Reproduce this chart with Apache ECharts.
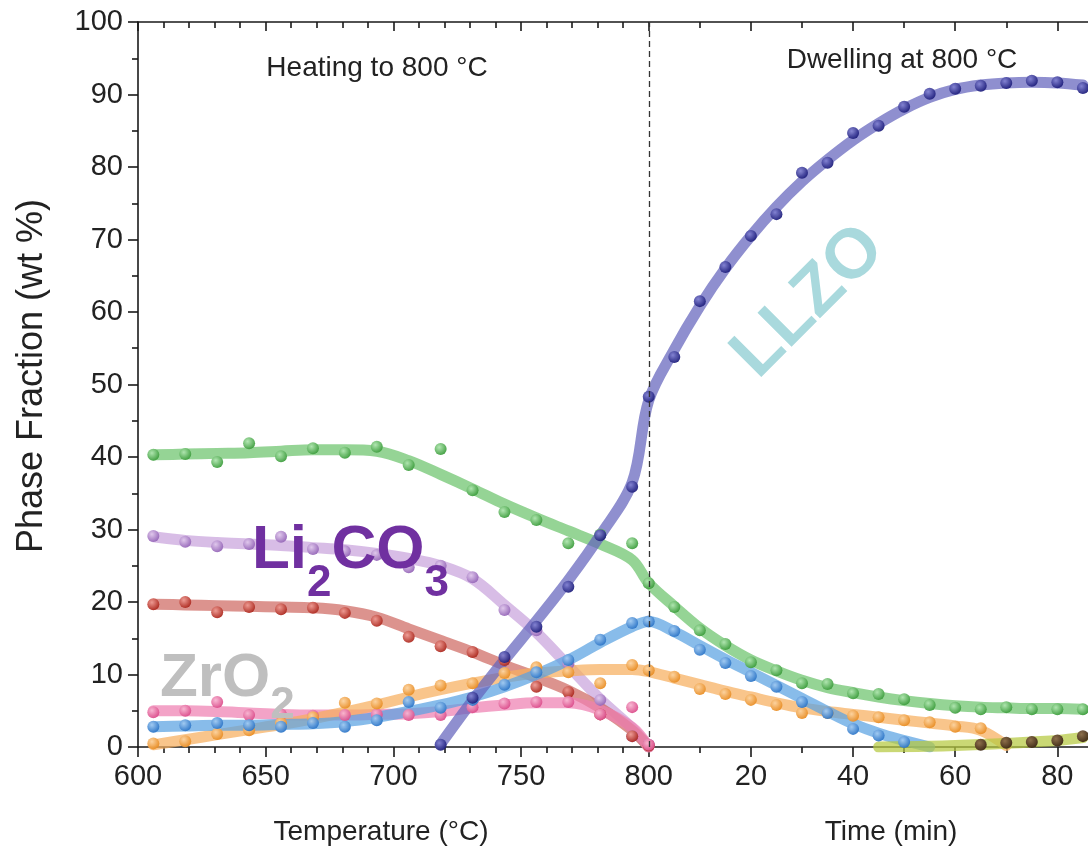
<!DOCTYPE html>
<html>
<head>
<meta charset="utf-8">
<script src="https://cdn.jsdelivr.net/npm/echarts@6/dist/echarts.min.js"></script>
<style>
html,body{margin:0;padding:0;background:#fff;}
#chart{width:1088px;height:859px;}
</style>
</head>
<body>
<div id="chart"></div>
<script>
// ---------- DATA ----------
// Heating stage: temperature (°C) of each measurement
const heatTemps = [606, 618.5, 631, 643.5, 656, 668.5, 681, 693.5, 706, 718.5, 731, 743.5, 756, 768.5, 781, 793.5];
// Dwelling stage: time at 800 °C (min)
const dwellMinutes = [0, 5, 10, 15, 20, 25, 30, 35, 40, 45, 50, 55, 60, 65, 70, 75, 80, 85];
// Tick labels
const tempTicks = [600, 650, 700, 750, 800];
const timeTicks = [20, 40, 60, 80];
const tempMinor = [610, 620, 630, 640, 660, 670, 680, 690, 710, 720, 730, 740, 760, 770, 780, 790];
const timeMinor = [10, 30, 50, 70];
const yTicks = [0, 10, 20, 30, 40, 50, 60, 70, 80, 90, 100];

// Phase fractions (wt %): measured points, heating part then dwelling part
const greenPtsHeat = [40.3, 40.4, 39.3, 41.9, 40.1, 41.2, 40.6, 41.4, 38.9, 41.1, 35.4, 32.4, 31.3, 28.1, 29.3, 28.1];
const greenPtsDwell = [22.6, 19.3, 16.1, 14.2, 11.7, 10.6, 8.8, 8.7, 7.4, 7.3, 6.6, 5.8, 5.4, 5.2, 5.5, 5.2, 5.2, 5.2];
const greenFitHeat = [40.3, 40.4, 40.5, 40.6, 40.8, 41.0, 41.0, 40.8, 39.5, 37.6, 35.6, 33.5, 31.6, 29.8, 28.0, 25.8];
const greenFitDwell = [22.6, 19.4, 16.4, 14.0, 12.0, 10.5, 9.2, 8.2, 7.5, 6.9, 6.4, 6.0, 5.7, 5.5, 5.4, 5.3, 5.3, 5.2];

const li2co3PtsHeat = [29.1, 28.3, 27.7, 28.0, 29.0, 27.3, 27.0, 26.5, 24.8, 25.0, 23.4, 18.9, 16.1, 11.5, 6.5, 1.5];
const li2co3PtsDwell = [0.3];
const li2co3FitHeat = [29.0, 28.5, 28.2, 28.0, 27.8, 27.5, 27.2, 26.7, 26.0, 25.0, 23.2, 19.6, 15.8, 11.2, 6.6, 2.6];
const li2co3FitDwell = [0];

const redPtsHeat = [19.7, 20.0, 18.6, 19.3, 19.0, 19.2, 18.5, 17.4, 15.2, 13.9, 13.1, 12.0, 8.3, 7.6, 4.5, 1.5];
const redPtsDwell = [0.2];
const redFitHeat = [19.7, 19.6, 19.5, 19.4, 19.3, 19.2, 18.8, 17.9, 16.3, 14.7, 13.1, 11.3, 9.6, 7.8, 5.4, 2.3];
const redFitDwell = [0];

const pinkPtsHeat = [4.8, 5.0, 6.2, 4.4, 4.5, 4.3, 4.4, 4.5, 4.4, 4.4, 5.5, 6.0, 6.2, 6.2, 4.5, 5.5];
const pinkPtsDwell = [0.3];
const pinkFitHeat = [5.0, 5.0, 4.9, 4.7, 4.5, 4.4, 4.4, 4.5, 4.6, 4.9, 5.4, 5.8, 6.1, 6.1, 5.1, 2.7];
const pinkFitDwell = [0];

const bluePtsHeat = [2.8, 3.0, 3.3, 3.0, 2.8, 3.3, 2.8, 3.7, 6.2, 5.4, 6.5, 8.6, 10.3, 12.0, 14.8, 17.1];
const bluePtsDwell = [17.3, 16.0, 13.4, 11.6, 9.8, 8.3, 6.2, 4.7, 2.5, 1.6, 0.7];
const blueFitHeat = [2.8, 2.9, 3.0, 3.0, 3.1, 3.2, 3.5, 4.1, 4.9, 5.8, 6.9, 8.3, 10.0, 12.0, 14.4, 16.6];
const blueFitDwell = [17.3, 15.9, 14.0, 12.1, 10.3, 8.5, 6.7, 4.9, 3.2, 1.9, 0.9, 0.0];

const orangePtsHeat = [0.5, 0.8, 1.8, 2.3, 3.3, 4.1, 6.1, 6.0, 7.9, 8.5, 8.8, 10.2, 11.0, 10.3, 8.8, 11.3];
const orangePtsDwell = [10.6, 9.7, 8.0, 7.3, 6.5, 5.8, 4.7, 4.7, 4.3, 4.1, 3.7, 3.4, 2.8, 2.6];
const orangeFitHeat = [0.3, 1.0, 1.7, 2.4, 3.1, 3.9, 4.8, 5.8, 6.9, 7.9, 8.8, 9.6, 10.2, 10.5, 10.7, 10.7];
const orangeFitDwell = [10.4, 9.5, 8.6, 7.7, 6.9, 6.1, 5.4, 4.9, 4.5, 4.1, 3.7, 3.3, 2.9, 2.3, 0.2];

const llzoPtsHeat = [null, null, null, null, null, null, null, null, null, 0.3, 6.8, 12.4, 16.6, 22.1, 29.2, 35.9];
const llzoPtsDwell = [48.3, 53.8, 61.5, 66.2, 70.5, 73.5, 79.2, 80.6, 84.7, 85.7, 88.3, 90.1, 90.8, 91.2, 91.6, 91.9, 91.7, 90.9];
const llzoFitHeat = [null, null, null, null, null, null, null, null, null, 0.4, 6.4, 12.0, 17.4, 23.0, 29.2, 36.5];
const llzoFitDwell = [47.8, 54.8, 60.8, 66.0, 70.5, 74.5, 78.0, 81.0, 83.7, 86.0, 88.0, 89.6, 90.7, 91.3, 91.6, 91.7, 91.6, 91.3];

const olivePtsDwell = [null, null, null, null, null, null, null, null, null, null, null, null, null, 0.3, 0.6, 0.7, 0.9, 1.5];
const oliveFitDwell = [null, null, null, null, null, null, null, null, null, 0.0, 0.05, 0.1, 0.2, 0.35, 0.5, 0.7, 0.9, 1.3];

// ---------- AXIS MAPPING (broken axis: 1 min of dwelling = 2 axis units after 800 °C) ----------
const SPLIT = 800, MIN_SCALE = 2;
const timeToAxis = t => SPLIT + MIN_SCALE * t;
const xs = heatTemps.concat(dwellMinutes.map(timeToAxis));

function pairs(heat, dwell) {
  const h = heat || [];
  const d = dwell || [];
  const out = [];
  for (let i = 0; i < heatTemps.length; i++) out.push([xs[i], h[i] == null ? null : h[i]]);
  for (let j = 0; j < dwellMinutes.length; j++) {
    const v = d[j];
    out.push([xs[heatTemps.length + j], v == null ? null : v]);
  }
  return out.filter(p => p[1] != null);
}

const FONT = '"Liberation Sans", Arial, Helvetica, sans-serif';

const phases = [
  {name: 'Green', line: '#6cc46c', dot: ['#b0e6b0', '#389a38'], pts: pairs(greenPtsHeat, greenPtsDwell), fit: pairs(greenFitHeat, greenFitDwell)},
  {name: 'Li2CO3', line: '#c9a4dc', dot: ['#e0c8ec', '#9262b6'], pts: pairs(li2co3PtsHeat, li2co3PtsDwell), fit: pairs(li2co3FitHeat, li2co3FitDwell)},
  {name: 'Red', line: '#cf6a62', dot: ['#ee9a92', '#aa241a'], pts: pairs(redPtsHeat, redPtsDwell), fit: pairs(redFitHeat, redFitDwell)},
  {name: 'Pink', line: '#ee7fb2', dot: ['#f8b6d2', '#da4888'], pts: pairs(pinkPtsHeat, pinkPtsDwell), fit: pairs(pinkFitHeat, pinkFitDwell)},
  {name: 'Orange', line: '#f6ae5e', dot: ['#fcd3a0', '#e88a1e'], pts: pairs(orangePtsHeat, orangePtsDwell), fit: pairs(orangeFitHeat, orangeFitDwell)},
  {name: 'Blue', line: '#5aa2e2', dot: ['#a2cbf2', '#2872c6'], pts: pairs(bluePtsHeat, bluePtsDwell), fit: pairs(blueFitHeat, blueFitDwell)},
  {name: 'Olive', line: '#b6c940', dot: ['#8a6a4a', '#3a2412'], pts: pairs(null, olivePtsDwell), fit: pairs(null, oliveFitDwell)},
  {name: 'LLZO', line: '#6464bc', dot: ['#8282d2', '#1a1a78'], pts: pairs(llzoPtsHeat, llzoPtsDwell), fit: pairs(llzoFitHeat, llzoFitDwell)}
];

const series = [];
phases.forEach((p, i) => {
  series.push({
    type: 'line', name: p.name + ' fit', data: p.fit, smooth: 0.35, showSymbol: false,
    xAxisIndex: 0, yAxisIndex: 0, z: 2 + i * 0.01, silent: true,
    lineStyle: {color: p.line, width: 11, opacity: 0.72, cap: 'round', join: 'round'}
  });
});
phases.forEach((p, i) => {
  series.push({
    type: 'scatter', name: p.name, data: p.pts, symbol: 'circle', symbolSize: 12,
    xAxisIndex: 0, yAxisIndex: 0, z: 4 + i * 0.01, silent: true,
    itemStyle: {
      color: new echarts.graphic.RadialGradient(0.38, 0.35, 0.7, [
        {offset: 0, color: p.dot[0]}, {offset: 1, color: p.dot[1]}
      ]),
      opacity: 0.95
    }
  });
});
// dashed separator at the end of heating
series[0].markLine = {
  silent: true, symbol: ['none', 'none'], label: {show: false},
  lineStyle: {color: '#333', type: [6, 4], width: 1.3},
  data: [{xAxis: SPLIT}]
};

const xMin = 600, xMax = 972;
const majorX = tempTicks.concat(timeTicks.map(timeToAxis));
const minorX = tempMinor.concat(timeMinor.map(timeToAxis));

function xLabel(v) {
  return v <= SPLIT ? String(v) : String((v - SPLIT) / MIN_SCALE);
}

const axisLineStyle = {color: '#1a1a1a', width: 1.6};

const option = {
  animation: false,
  backgroundColor: '#ffffff',
  grid: {left: 138, right: 0, top: 22, bottom: 112, containLabel: false},
  xAxis: [
    {type: 'value', min: xMin, max: xMax, position: 'bottom',
     axisLine: {show: true, lineStyle: axisLineStyle, onZero: false},
     axisTick: {show: true, customValues: majorX, length: 10, lineStyle: axisLineStyle},
     axisLabel: {customValues: majorX, formatter: xLabel, fontSize: 29, color: '#222', fontFamily: FONT, margin: 15},
     splitLine: {show: false}},
    {type: 'value', min: xMin, max: xMax, position: 'bottom',
     axisLine: {show: false, onZero: false},
     axisTick: {show: true, customValues: minorX, length: 6, lineStyle: axisLineStyle},
     axisLabel: {show: false}, splitLine: {show: false}},
    {type: 'value', min: xMin, max: xMax, position: 'top',
     axisLine: {show: true, lineStyle: axisLineStyle, onZero: false},
     axisTick: {show: true, inside: true, customValues: majorX, length: 9, lineStyle: axisLineStyle},
     axisLabel: {show: false}, splitLine: {show: false}},
    {type: 'value', min: xMin, max: xMax, position: 'top',
     axisLine: {show: false, onZero: false},
     axisTick: {show: true, inside: true, customValues: minorX, length: 6, lineStyle: axisLineStyle},
     axisLabel: {show: false}, splitLine: {show: false}}
  ],
  yAxis: [
    {type: 'value', min: 0, max: 100, interval: 10, position: 'left',
     axisLine: {show: true, lineStyle: axisLineStyle, onZero: false},
     axisTick: {show: true, length: 10, lineStyle: axisLineStyle},
     minorTick: {show: true, splitNumber: 2, length: 6, lineStyle: axisLineStyle},
     axisLabel: {fontSize: 29, color: '#222', fontFamily: FONT, margin: 15,
                 customValues: yTicks},
     splitLine: {show: false}}
  ],
  graphic: [
    {type: 'text', x: 32, y: 376, rotation: Math.PI / 2,
     style: {text: 'Phase Fraction (wt %)', fontSize: 36, fontFamily: FONT, fill: '#222', align: 'center', verticalAlign: 'middle'}},
    {type: 'text', x: 381, y: 832,
     style: {text: 'Temperature (°C)', fontSize: 28, fontFamily: FONT, fill: '#222', align: 'center', verticalAlign: 'middle'}},
    {type: 'text', x: 891, y: 832,
     style: {text: 'Time (min)', fontSize: 28, fontFamily: FONT, fill: '#222', align: 'center', verticalAlign: 'middle'}},
    {type: 'text', x: 377, y: 68,
     style: {text: 'Heating to 800 °C', fontSize: 28, fontFamily: FONT, fill: '#222', align: 'center', verticalAlign: 'middle'}},
    {type: 'text', x: 902, y: 60,
     style: {text: 'Dwelling at 800 °C', fontSize: 28, fontFamily: FONT, fill: '#222', align: 'center', verticalAlign: 'middle'}},
    {type: 'text', x: 809, y: 302, rotation: Math.PI / 4, z: 1,
     style: {text: 'LLZO', fontSize: 70, fontWeight: 'bold', fontFamily: FONT, fill: '#a9d9dd', align: 'center', verticalAlign: 'middle'}},
    {type: 'text', x: 252, y: 520, z: 10,
     style: {text: '{a|Li}{b|2}{a|CO}{b|3}', fontFamily: FONT, align: 'left', verticalAlign: 'top',
       rich: {
         a: {fontSize: 62, fontWeight: 'bold', fontFamily: FONT, fill: '#7030a0', lineHeight: 64, verticalAlign: 'top'},
         b: {fontSize: 44, fontWeight: 'bold', fontFamily: FONT, fill: '#7030a0', lineHeight: 46, padding: [42, 0, 0, 0], verticalAlign: 'top'}
       }}},
    {type: 'text', x: 160, y: 648, z: 10,
     style: {text: '{a|ZrO}{b|2}', fontFamily: FONT, align: 'left', verticalAlign: 'top',
       rich: {
         a: {fontSize: 62, fontWeight: 'bold', fontFamily: FONT, fill: '#bfbfbf', lineHeight: 64, verticalAlign: 'top'},
         b: {fontSize: 44, fontWeight: 'bold', fontFamily: FONT, fill: '#bfbfbf', lineHeight: 46, padding: [36, 0, 0, 0], verticalAlign: 'top'}
       }}}
  ],
  series: series
};

const chart = echarts.init(document.getElementById('chart'), null, {renderer: 'canvas'});
chart.setOption(option);
</script>
</body>
</html>
